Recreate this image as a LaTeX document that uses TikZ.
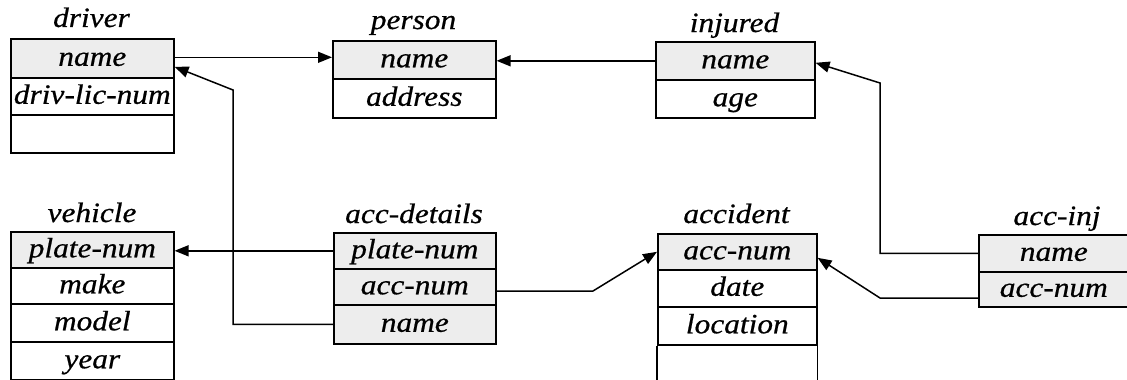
\documentclass[tikz,border=0pt]{standalone}
\usepackage{fontspec}
\newfontfamily\tfont{Liberation Serif Italic}[FakeStretch=1.12, FakeBold=0.6]
\usetikzlibrary{arrows.meta}
\begin{document}
\begin{tikzpicture}[x=1pt,y=-1pt,
  fld/.style={draw, line width=1.6pt, inner sep=0pt, anchor=north west,
    text height=18pt, text depth=3pt,
    font=\tfont\fontsize{28}{28}\selectfont},
  keyfld/.style={fld, fill=gray!14},
  ttl/.style={anchor=base, inner sep=0pt, font=\tfont\fontsize{28}{28}\selectfont},
  arr/.style={line width=1.5pt, -{Triangle[length=14pt,width=11pt]}},
  lnk/.style={line width=1.6pt}]
\useasboundingbox (0,0) rectangle (1127,380);
% driver
\node[ttl] (tdriver) at (91.5,27) {driver};
\node[keyfld, minimum width=163pt, minimum height=39pt] (dname) at (10,38) {name};
\node[fld, minimum width=163pt, minimum height=37pt] (dlic) at (10,77) {driv-lic-num};
\node[fld, minimum width=163pt, minimum height=38pt] (dempty) at (10,114) {};
% person
\node[ttl] (tperson) at (413.5,29) {person};
\node[keyfld, minimum width=163pt, minimum height=38pt] (pname) at (332,40) {name};
\node[fld, minimum width=163pt, minimum height=39pt] (paddr) at (332,78) {address};
% injured
\node[ttl] (tinjured) at (734.5,32) {injured};
\node[keyfld, minimum width=159pt, minimum height=38pt] (iname) at (655,41) {name};
\node[fld, minimum width=159pt, minimum height=38pt] (iage) at (655,79) {age};
% vehicle
\node[ttl] (tvehicle) at (92,222) {vehicle};
\node[keyfld, minimum width=163pt, minimum height=36pt] (vplate) at (10,231) {plate-num};
\node[fld, minimum width=163pt, minimum height=36pt] (vmake) at (10,267) {make};
\node[fld, minimum width=163pt, minimum height=38pt] (vmodel) at (10,303) {model};
\node[fld, minimum width=163pt, minimum height=38pt] (vyear) at (10,341) {year};
% acc-details
\node[ttl] (taccdet) at (414,223) {acc-details};
\node[keyfld, minimum width=162pt, minimum height=36pt] (adplate) at (333,232) {plate-num};
\node[keyfld, minimum width=162pt, minimum height=36pt] (adacc) at (333,268) {acc-num};
\node[keyfld, minimum width=162pt, minimum height=39pt] (adname) at (333,304) {name};
% accident
\node[ttl] (taccident) at (736.5,223) {accident};
\node[keyfld, minimum width=159pt, minimum height=36pt] (aacc) at (657,233) {acc-num};
\node[fld, minimum width=159pt, minimum height=37pt] (adate) at (657,269) {date};
\node[fld, minimum width=159pt, minimum height=38pt] (aloc) at (657,306) {location};
\draw[lnk] (aloc.south west) -- ++(0,40);
\draw[lnk] (aloc.south east) -- ++(0,40);
% acc-inj
\node[ttl] (taccinj) at (1057,225) {acc-inj};
\node[keyfld, minimum width=150pt, minimum height=37pt] (ainame) at (978,234) {name};
\node[keyfld, minimum width=150pt, minimum height=35pt] (aiacc) at (978,271) {acc-num};
% bend points
\coordinate (c1) at (233,90);
\coordinate (c2) at (593,291);
\coordinate (c3) at (880,298);
\coordinate (c4) at (880,83);
% connectors
\draw[arr] ([yshift=1pt]dname.east) -- ([yshift=1pt]dname.east -| pname.west);
\draw[arr] (iname.west) -- (iname.west -| pname.east);
\draw[arr] (adname.west) -- (adname.west -| c1) -- (c1) -- ([yshift=-8.5pt]dname.east);
\draw[arr] (adplate.west) -- (adplate.west -| vplate.east);
\draw[arr] (adacc.east |- c2) -- (c2) -- (aacc.west);
\draw[arr] (aiacc.west |- c3) -- (c3) -- ([yshift=-6pt]aacc.east);
\draw[arr] (ainame.west) -- (ainame.west -| c4) -- (c4) -- ([yshift=-2pt]iname.east);
\end{tikzpicture}
\end{document}
